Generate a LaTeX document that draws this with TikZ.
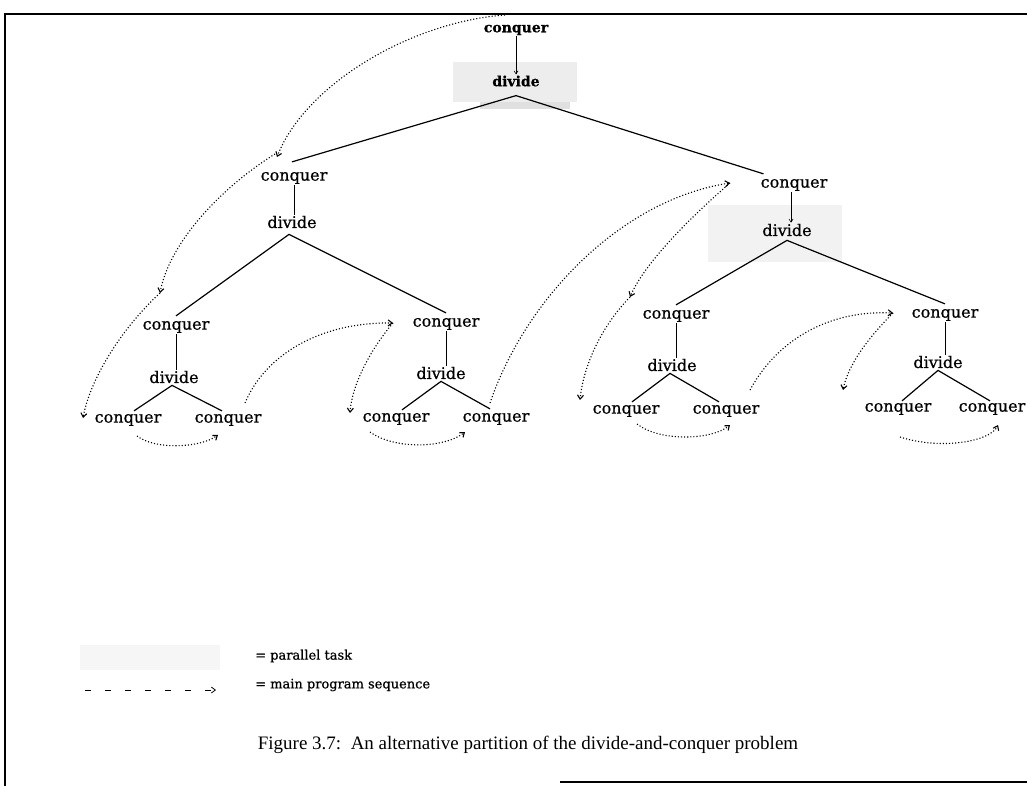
\documentclass[tikz,border=0pt]{standalone}
\usepackage{fontspec}
\setmainfont{Liberation Serif}
\newfontfamily\nodefont[FakeBold=0.6]{DejaVu Serif}
\usetikzlibrary{arrows.meta}
\begin{document}
\begin{tikzpicture}[x=1pt,y=-1pt,
  lbl/.style={font=\nodefont\fontsize{16}{18}\selectfont, inner sep=1pt},
  rootlbl/.style={font=\nodefont\bfseries\fontsize{14}{16}\selectfont, inner sep=1pt},
  legendtxt/.style={font=\nodefont\fontsize{13}{15}\selectfont, anchor=west, inner sep=0pt},
  captxt/.style={font=\fontsize{19}{22}\selectfont, inner sep=0pt},
  tree/.style={line width=1.2pt},
  stem/.style={line width=0.6pt},
  stemarrow/.style={line width=0.6pt, -{Straight Barb[length=3pt,width=4pt]}},
  seq/.style={dotted, line width=1.1pt, -{Straight Barb[length=4pt,width=6pt]}},
  partask/.style={fill=gray!14, draw=none},
  frameline/.style={line width=1.3pt},
]
\useasboundingbox (0,0) rectangle (1027,786);
\fill[white] (0,0) rectangle (1027,786);
% frame
\draw[frameline] (5,786) -- (5,14) -- (1027,14);
\draw[frameline] (560,782) -- (1027,782);
% parallel task shading
\fill[partask] (453,62) rectangle (577,102);
\fill[gray!24] (480,102) rectangle (570,109);
\fill[partask, fill=gray!10] (708,205) rectangle (842,262);
% nodes
\node[rootlbl] (c0) at (516,30) {conquer};
\node[rootlbl] (d0) at (516,81) {divide};
\node[lbl] (c1) at (294,178) {conquer};
\node[lbl] (d1) at (292,222) {divide};
\node[lbl] (c2) at (794,185) {conquer};
\node[lbl] (d2) at (787,230) {divide};
\node[lbl] (c11) at (176,327) {conquer};
\node[lbl] (d11) at (174,377) {divide};
\node[lbl] (c12) at (446,324) {conquer};
\node[lbl] (d12) at (441,373) {divide};
\node[lbl] (c21) at (676,316) {conquer};
\node[lbl] (d21) at (672,365) {divide};
\node[lbl] (c22) at (945,315) {conquer};
\node[lbl] (d22) at (938,362) {divide};
\node[lbl] (l111) at (128,420) {conquer};
\node[lbl] (l112) at (228,420) {conquer};
\node[lbl] (l121) at (396,419) {conquer};
\node[lbl] (l122) at (496,419) {conquer};
\node[lbl] (l211) at (626,411) {conquer};
\node[lbl] (l212) at (726,411) {conquer};
\node[lbl] (l221) at (898,409) {conquer};
\node[lbl] (l222) at (992,409) {conquer};
% stems
\draw[stemarrow] (c0.south) -- (c0.south |- d0.north);
\draw[stemarrow] ([xshift=-3pt]c2.south) -- ([xshift=-3pt]c2.south |- d2.north);
\draw[stem] (c1.south) -- (c1.south |- d1.north);
\draw[stem] (c11.south) -- (c11.south |- d11.north);
\draw[stem] (c12.south) -- (c12.south |- d12.north);
\draw[stem] (c21.south) -- (c21.south |- d21.north);
\draw[stem] (c22.south) -- (c22.south |- d22.north);
% tree lines
\coordinate (ap0) at ([yshift=-8pt]d0.south);
\draw[tree] ([xshift=-2pt,yshift=9pt]c1.north) -- (ap0) -- ([xshift=4pt,yshift=4pt]c2.north west);
\draw[tree] ([yshift=4pt]c11.north) -- ([xshift=-3pt,yshift=-5pt]d1.south) -- ([yshift=4pt]c12.north);
\draw[tree] ([yshift=4pt]c21.north) -- ([yshift=-3pt]d2.south) -- ([yshift=4pt]c22.north);
\draw[tree] ([xshift=6pt,yshift=2pt]l111.north) -- ([xshift=-2pt,yshift=-1pt]d11.south) -- ([xshift=-6pt,yshift=2pt]l112.north);
\draw[tree] ([xshift=6pt,yshift=2pt]l121.north) -- ([yshift=-1pt]d12.south) -- ([xshift=-6pt,yshift=3pt]l122.north);
\draw[tree] ([xshift=6pt,yshift=2pt]l211.north) -- ([xshift=-2pt,yshift=-1pt]d21.south) -- ([xshift=-7pt,yshift=2pt]l212.north);
\draw[tree] ([xshift=4pt,yshift=1pt]l221.north) -- ([yshift=-1pt]d22.south) -- ([xshift=-2pt,yshift=1pt]l222.north);
% main program sequence (dotted)
\coordinate (s0) at (505,15);
\coordinate (a1) at (277,157);
\coordinate (a2) at (160,293);
\coordinate (a3) at (83,418);
\coordinate (b4) at (137,436);
\coordinate (a4) at (218,435);
\coordinate (b5) at (245,403);
\coordinate (a5) at (393,323);
\coordinate (a6) at (350,413);
\coordinate (b7) at (370,432);
\coordinate (a7) at (465,432);
\coordinate (b8) at (490,403);
\coordinate (a8) at (730,183);
\coordinate (a9) at (630,297);
\coordinate (a10) at (580,400);
\coordinate (b11) at (637,424);
\coordinate (a11) at (730,425);
\coordinate (b12) at (750,390);
\coordinate (a12) at (893,313);
\coordinate (a13) at (843,390);
\coordinate (b14) at (900,437);
\coordinate (a14) at (998,425);
\draw[seq] (s0) .. controls (410,22) and (305,85) .. (a1);
\draw[seq] ([xshift=-2pt,yshift=3pt]a1) .. controls (225,185) and (170,240) .. (a2);
\draw[seq] (a2) .. controls (120,330) and (90,380) .. (a3);
\draw[seq] (b4) .. controls (155,450) and (200,448) .. (a4);
\draw[seq] (b5) .. controls (265,355) and (320,322) .. (a5);
\draw[seq] (a5) .. controls (370,350) and (352,385) .. (a6);
\draw[seq] (b7) .. controls (395,450) and (445,448) .. (a7);
\draw[seq] (b8) .. controls (525,300) and (620,200) .. (a8);
\draw[seq] (a8) .. controls (693,215) and (645,262) .. (a9);
\draw[seq] (a9) .. controls (598,330) and (583,370) .. (a10);
\draw[seq] (b11) .. controls (660,442) and (712,440) .. (a11);
\draw[seq] (b12) .. controls (780,335) and (835,310) .. (a12);
\draw[seq] (a12) .. controls (868,338) and (848,365) .. (a13);
\draw[seq] (b14) .. controls (940,450) and (990,442) .. (a14);
% legend
\node[partask, fill=gray!7, minimum width=140pt, minimum height=25pt] (legbox) at (150,657) {};
\node[legendtxt] (legpar) at (255,656) {= parallel task};
\node[legendtxt] (legseq) at (255,685) {= main program sequence};
\coordinate (legs) at (85,690);
\coordinate (lege) at (216,690);
\draw[line width=0.8pt, dash pattern=on 6pt off 14pt, -{Straight Barb[length=4pt,width=6pt]}] (legs) -- (lege);
% caption
\node[captxt] (cap) at (528,745) {Figure 3.7:\ \ An alternative partition of the divide-and-conquer problem};
\end{tikzpicture}
\end{document}
